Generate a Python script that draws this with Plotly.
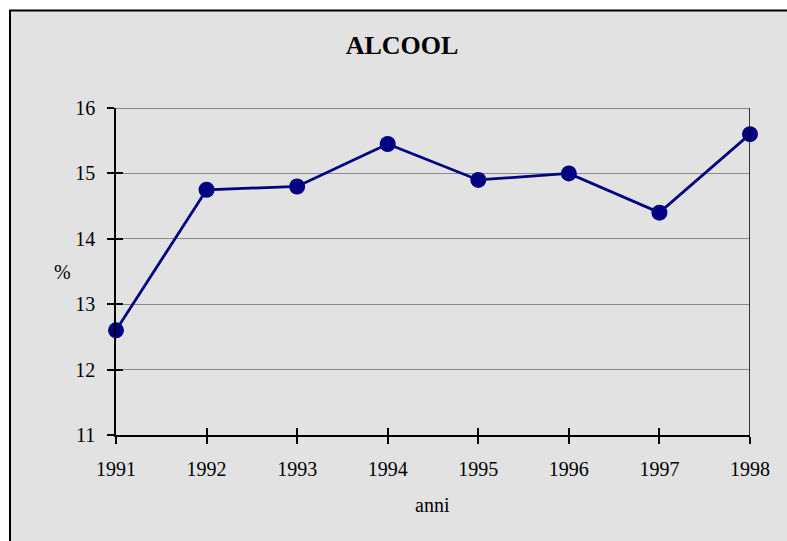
import plotly.graph_objects as go

# Alcohol share by year
anni = [1991, 1992, 1993, 1994, 1995, 1996, 1997, 1998]
alcool = [12.6, 14.75, 14.8, 15.45, 14.9, 15.0, 14.4, 15.6]
y_ticks = [11, 12, 13, 14, 15, 16]

W, H = 787, 541
L, R, T, B = 116, 37, 108, 106
pw, ph = W - L - R, H - T - B

def px_x(p):
    return (p - L) / pw

def px_y(p):
    return (H - B - p) / ph

font = dict(family="Liberation Serif, Times New Roman, serif", color="black")
navy = "#000080"
bg = "#e2e2e2"
grid = "#8a8a8a"

fig = go.Figure()
fig.add_trace(go.Scatter(
    x=anni, y=alcool, mode="lines+markers",
    line=dict(color=navy, width=2.8),
    marker=dict(color=navy, size=16),
    cliponaxis=False, hoverinfo="x+y", showlegend=False,
))
# twin axes carry the inner half of the crossing tick marks
fig.add_trace(go.Scatter(
    x=anni, y=alcool, mode="lines", opacity=0,
    xaxis="x2", yaxis="y2", hoverinfo="skip", showlegend=False,
))

axis_common = dict(
    showline=True, linecolor="black", linewidth=1.5,
    tickcolor="black", tickwidth=1.5, ticklen=7,
    tickfont=dict(size=20, **font), zeroline=False,
)

fig.update_layout(
    width=W, height=H,
    margin=dict(l=L, r=R, t=T, b=B),
    paper_bgcolor="white",
    plot_bgcolor="rgba(0,0,0,0)",
    title=dict(text="<b>ALCOOL</b>", x=402 / W, xanchor="center",
               y=1 - 45 / H, yanchor="middle", font=dict(size=26, **font)),
    xaxis=dict(range=[anni[0], anni[-1]], tickvals=anni, ticks="outside",
               showgrid=False, ticklabelstandoff=8, **axis_common),
    yaxis=dict(range=[y_ticks[0], y_ticks[-1]], tickvals=y_ticks, ticks="outside",
               showgrid=True, gridcolor=grid, gridwidth=1,
               ticklabelstandoff=8, **axis_common),
    xaxis2=dict(range=[anni[0], anni[-1]], tickvals=anni, ticks="inside",
                overlaying="x", showticklabels=False, showgrid=False,
                showline=False, tickcolor="black", tickwidth=1.5, ticklen=7),
    yaxis2=dict(range=[y_ticks[0], y_ticks[-1]], tickvals=y_ticks, ticks="inside",
                overlaying="y", showticklabels=False, showgrid=False,
                showline=False, tickcolor="black", tickwidth=1.5, ticklen=7),
    annotations=[
        dict(text="%", x=px_x(62), y=px_y(272), xref="paper", yref="paper",
             xanchor="center", yanchor="middle",
             showarrow=False, font=dict(size=20, **font)),
        dict(text="anni", x=px_x(432), y=px_y(505), xref="paper", yref="paper",
             xanchor="center", yanchor="middle",
             showarrow=False, font=dict(size=20, **font)),
    ],
    shapes=[
        dict(type="rect", xref="paper", yref="paper", layer="below",
             x0=px_x(10), x1=px_x(W + 20), y0=px_y(H + 20), y1=px_y(10.5),
             fillcolor=bg, line=dict(color="black", width=2)),
        dict(type="line", xref="x", yref="y", layer="below",
             x0=anni[0], x1=anni[-1], y0=y_ticks[-1], y1=y_ticks[-1],
             line=dict(color="#6a6a6a", width=1.5)),
        dict(type="line", xref="x", yref="y", x0=anni[-1], x1=anni[-1],
             y0=y_ticks[0], y1=y_ticks[-1], line=dict(color="black", width=1.5)),
    ],
)

fig.write_html("out.html")
